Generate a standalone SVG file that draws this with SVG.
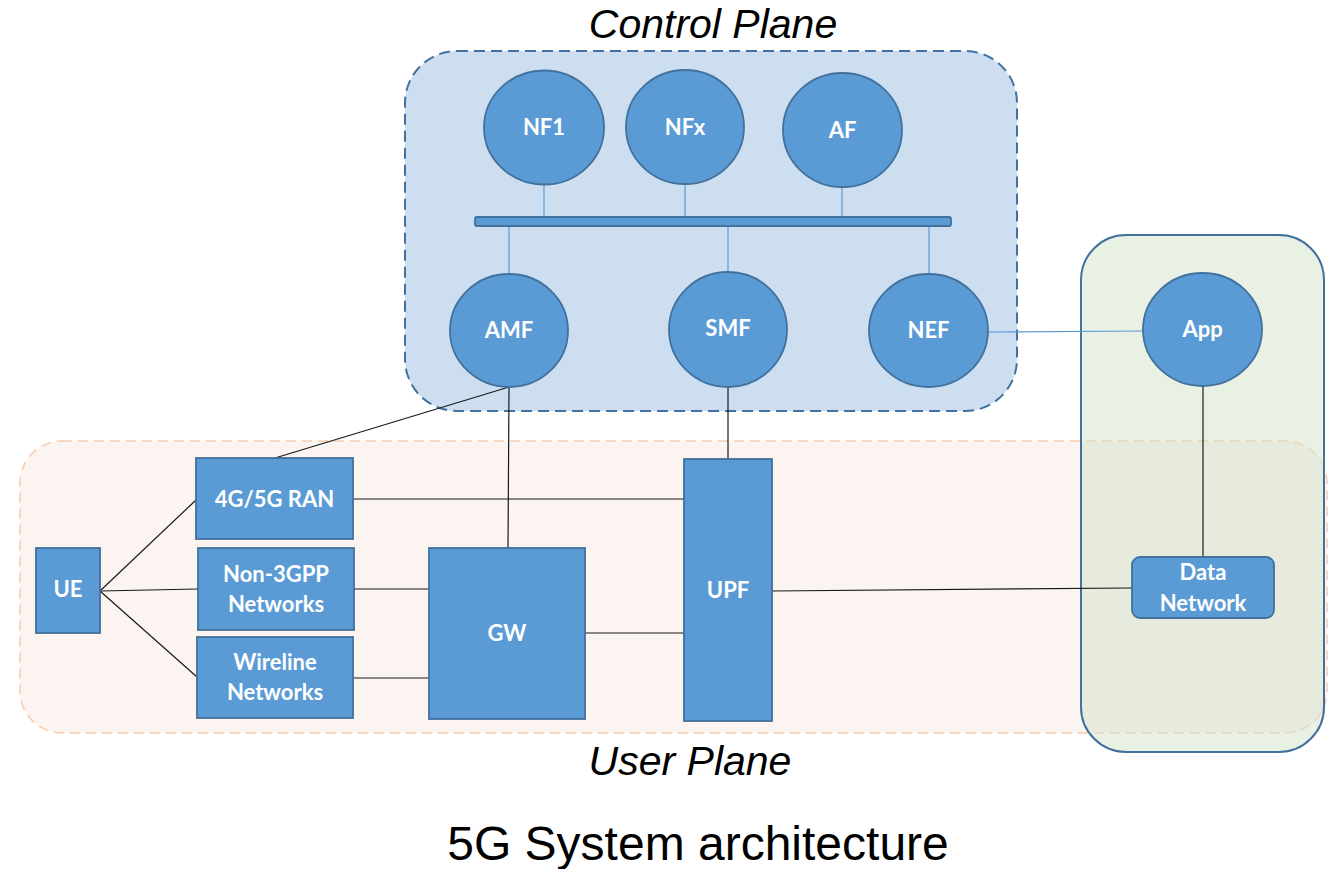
<svg xmlns="http://www.w3.org/2000/svg" width="1329" height="869" viewBox="0 0 1329 869">
<style>
.node{fill:#5B9BD5;stroke:#41719C;stroke-width:1.8}
.lbl{font-family:Lato,"Open Sans","Liberation Sans",sans-serif;font-weight:bold;font-size:22px;fill:#FFFFFF;text-anchor:middle}
.title{font-family:"Liberation Sans",Arial,sans-serif;fill:#000;text-anchor:middle}
.blk{stroke:#1a1a1a;stroke-width:1.2;fill:none}
.blu{stroke:#5B9BD5;stroke-width:1.2;fill:none}
</style>
<rect width="1329" height="869" fill="#FFFFFF"/>
<g id="user-plane">
<rect x="20" y="441" width="1307" height="292" rx="42" fill="#FBF4F0" stroke="#F8CBAD" stroke-width="1.5" stroke-dasharray="10,6"/>
</g>
<g id="control-plane">
<rect x="405" y="51" width="612" height="360" rx="52" fill="#CCDEEF" stroke="#41719C" stroke-width="2" stroke-dasharray="11,6"/>
</g>
<g id="data-network-domain">
<rect x="1081" y="235" width="243" height="517" rx="45" fill="#D3E1C9" fill-opacity="0.5" stroke="#41719C" stroke-width="2"/>
</g>
<g id="connectors">
<line class="blu" x1="544" y1="184" x2="544" y2="217"/>
<line class="blu" x1="685" y1="184" x2="685" y2="217"/>
<line class="blu" x1="842" y1="187" x2="842" y2="217"/>
<line class="blu" x1="509" y1="226" x2="509" y2="274"/>
<line class="blu" x1="728" y1="226" x2="728" y2="272"/>
<line class="blu" x1="929" y1="226" x2="929" y2="274"/>
<line class="blu" x1="988" y1="332" x2="1143" y2="331"/>
<line class="blk" x1="509" y1="387" x2="275" y2="458"/>
<line class="blk" x1="509" y1="387" x2="508" y2="548"/>
<line class="blk" x1="728" y1="387" x2="728" y2="459"/>
<line class="blk" x1="100" y1="591" x2="196" y2="500"/>
<line class="blk" x1="100" y1="591" x2="198" y2="589"/>
<line class="blk" x1="100" y1="591" x2="197" y2="677"/>
<line class="blk" x1="353" y1="499" x2="684" y2="499"/>
<line class="blk" x1="354" y1="589" x2="430" y2="589"/>
<line class="blk" x1="353" y1="678" x2="430" y2="678"/>
<line class="blk" x1="585" y1="633" x2="684" y2="633"/>
<line class="blk" x1="772" y1="591" x2="1132" y2="588"/>
<line class="blk" x1="1203" y1="386" x2="1203" y2="557"/>
</g>
<g id="bus">
<rect x="475" y="217" width="476" height="9" rx="2" class="node" stroke-width="1.5"/>
</g>
<g id="NF1"><ellipse class="node" cx="544" cy="127.5" rx="60" ry="57"/><text class="lbl" x="544" y="135">NF1</text></g>
<g id="NFx"><ellipse class="node" cx="685" cy="127" rx="59" ry="57"/><text class="lbl" x="685" y="135">NFx</text></g>
<g id="AF"><ellipse class="node" cx="842.5" cy="130" rx="59.5" ry="57"/><text class="lbl" x="842.5" y="138">AF</text></g>
<g id="AMF"><ellipse class="node" cx="509" cy="330.5" rx="59" ry="56.5"/><text class="lbl" x="509" y="338">AMF</text></g>
<g id="SMF"><ellipse class="node" cx="728" cy="329.5" rx="59" ry="57.5"/><text class="lbl" x="728" y="336">SMF</text></g>
<g id="NEF"><ellipse class="node" cx="928.5" cy="330.5" rx="59.5" ry="56.5"/><text class="lbl" x="928.5" y="338">NEF</text></g>
<g id="App"><ellipse class="node" cx="1202.5" cy="329.5" rx="59.5" ry="56.5"/><text class="lbl" x="1202.5" y="337">App</text></g>
<g id="UE"><rect class="node" x="36" y="548" width="64" height="85"/><text class="lbl" x="68" y="597">UE</text></g>
<g id="RAN"><rect class="node" x="196" y="458" width="157" height="81"/><text class="lbl" x="274.5" y="507">4G/5G RAN</text></g>
<g id="Non3GPP"><rect class="node" x="198" y="548" width="156" height="82"/><text class="lbl" x="276" y="582">Non-3GPP</text><text class="lbl" x="276" y="612">Networks</text></g>
<g id="Wireline"><rect class="node" x="197" y="637" width="156" height="81"/><text class="lbl" x="275" y="670">Wireline</text><text class="lbl" x="275" y="700">Networks</text></g>
<g id="GW"><rect class="node" x="429" y="548" width="156" height="171"/><text class="lbl" x="507" y="641">GW</text></g>
<g id="UPF"><rect class="node" x="684" y="459" width="88" height="262"/><text class="lbl" x="728" y="598">UPF</text></g>
<g id="DataNetwork"><rect class="node" x="1132" y="557" width="142" height="61" rx="8"/><text class="lbl" x="1203" y="580">Data</text><text class="lbl" x="1203" y="611">Network</text></g>
<g id="titles">
<text class="title" x="713" y="38" font-size="41" font-style="italic">Control Plane</text>
<text class="title" x="690" y="775" font-size="41" font-style="italic">User Plane</text>
<text class="title" x="698" y="860" font-size="48">5G System architecture</text>
</g>
</svg>
